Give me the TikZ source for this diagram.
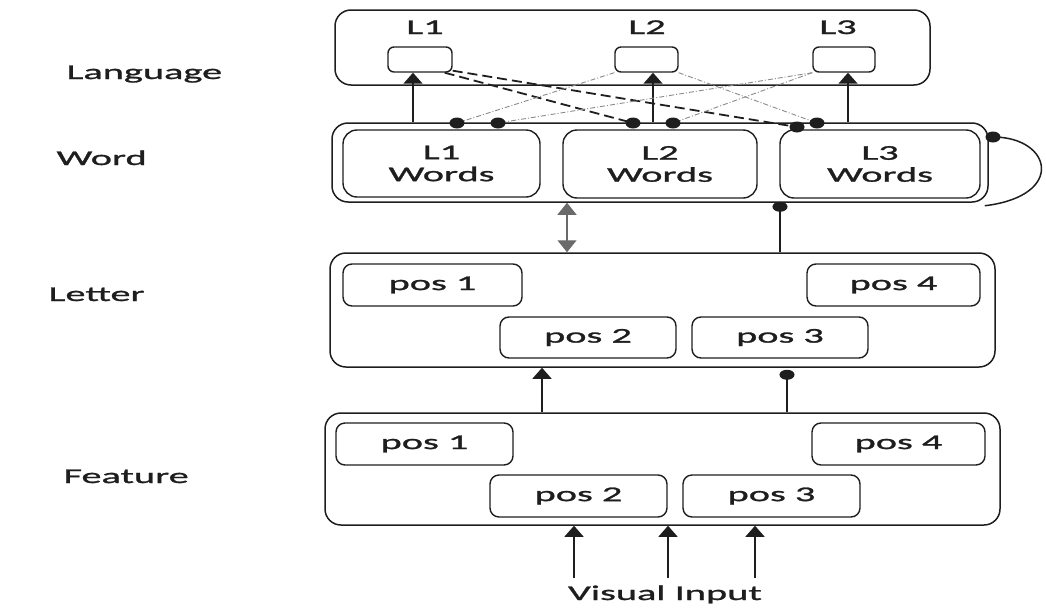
\documentclass[tikz,border=0pt]{standalone}
\usepackage{fontspec}
\setmainfont{Carlito}[FakeStretch=1.92,FakeBold=1.3]
\usetikzlibrary{arrows.meta}
\definecolor{ink}{HTML}{1E1E1E}
\definecolor{faint}{HTML}{8A8A8A}
\definecolor{mid}{HTML}{6A6A6A}
\begin{document}
\begin{tikzpicture}[x=1pt,y=-1pt,
  every node/.style={font=\fontsize{21}{22}\selectfont, text=ink},
  layerbox/.style={draw=ink, line width=1.5pt, rounded corners=16pt, inner sep=0pt},
  unitbox/.style={draw=ink, line width=1.4pt, rounded corners=9pt, inner sep=0pt, align=center},
  link/.style={draw=ink, line width=1.5pt},
  excite/.style={link, -{Triangle[width=19pt,length=11pt]}},
  twoway/.style={draw=mid, line width=1.3pt, fill=mid, {Triangle[width=19pt,length=12pt]}-{Triangle[width=19pt,length=12pt]}},
  inhibit/.style={link, -{Ellipse[length=10pt,width=15pt]}},
  crossdash/.style={draw=ink, line width=1.8pt, dash pattern=on 10pt off 5pt},
  crossdot/.style={draw=faint, line width=0.9pt, dash pattern=on 5pt off 2pt on 1pt off 2pt},
  blob/.style={fill=ink}
]
\useasboundingbox (0,0) rectangle (1046,608);

% level names
\node[anchor=base west] (tLang) at (63,79) {Language};
\node[anchor=base west] (tWord) at (53,165) {Word};
\node[anchor=base west] (tLett) at (45,301) {Letter};
\node[anchor=base west] (tFeat) at (60,483) {Feature};

% language level
\node[layerbox, minimum width=595pt, minimum height=75pt] (lang) at (632.5,47.5) {};
\node[unitbox, minimum width=64pt, minimum height=25pt, rounded corners=6pt] (L1) at (420,59.5) {};
\node[unitbox, minimum width=63pt, minimum height=25pt, rounded corners=6pt] (L2) at (646.5,59.5) {};
\node[unitbox, minimum width=62pt, minimum height=25pt, rounded corners=6pt] (L3) at (844,59.5) {};
\node[anchor=base] (tL1) at (425,34) {L1};
\node[anchor=base] (tL2) at (647,34) {L2};
\node[anchor=base] (tL3) at (838,34) {L3};

% word level
\node[layerbox, minimum width=656pt, minimum height=79pt] (words) at (660,162.5) {};
\node[unitbox, minimum width=197pt, minimum height=67pt, rounded corners=14pt] (W1) at (441.5,163.5) {L1\\Words};
\node[unitbox, minimum width=194pt, minimum height=68pt, rounded corners=14pt] (W2) at (660,164) {L2\\Words};
\node[unitbox, minimum width=200pt, minimum height=68pt, rounded corners=14pt] (W3) at (880,164) {L3\\Words};

% letter level
\node[layerbox, minimum width=665pt, minimum height=114pt] (letter) at (662.5,310) {};
\node[unitbox, minimum width=179pt, minimum height=42pt] (P1) at (432.5,285) {pos 1};
\node[unitbox, minimum width=176pt, minimum height=41pt] (P2) at (588,337.5) {pos 2};
\node[unitbox, minimum width=176pt, minimum height=41pt] (P3) at (780,337.5) {pos 3};
\node[unitbox, minimum width=173pt, minimum height=42pt] (P4) at (893.5,285) {pos 4};

% feature level
\node[layerbox, minimum width=675pt, minimum height=112pt] (feature) at (662.5,469) {};
\node[unitbox, minimum width=177pt, minimum height=42pt] (F1) at (424.5,444) {pos 1};
\node[unitbox, minimum width=177pt, minimum height=42pt] (F2) at (578.5,496) {pos 2};
\node[unitbox, minimum width=177pt, minimum height=42pt] (F3) at (771.5,496) {pos 3};
\node[unitbox, minimum width=173pt, minimum height=42pt] (F4) at (898.5,444) {pos 4};

\node[anchor=base] (vis) at (665,600) {Visual Input};

% word units to language nodes
\draw[excite] ([xshift=-7pt]L1.south |- words.north) -- ([xshift=-7pt]L1.south);
\draw[excite] ([xshift=6.5pt]L2.south |- words.north) -- ([xshift=6.5pt]L2.south);
\draw[excite] ([xshift=4pt]L3.south |- words.north) -- ([xshift=4pt]L3.south);

% inhibitory cross connections, language nodes to word units
\coordinate (d1) at (457,123);
\coordinate (d2) at (498,123);
\coordinate (d3) at (633,123);
\coordinate (d4) at (673,123);
\coordinate (d5) at (797,127);
\coordinate (d6) at (817,123);
\draw[crossdash] ([xshift=-8pt]L1.south east) -- (d3);
\draw[crossdash] ([yshift=2pt]L1.south east) -- (d5);
\draw[crossdot] (L2.south west) -- (d1);
\draw[crossdot] (L2.south east) -- (d6);
\draw[crossdot] (L3.south west) -- (d2);
\draw[crossdot] (L3.south west) -- (d4);
\foreach \d in {d1,d2,d3,d4,d5,d6}
  \fill[blob] (\d) ellipse [x radius=7.5, y radius=5.5];

% self inhibition of the word level
\coordinate (selfdot) at (993,137);
\draw[link] (selfdot) .. controls (1052,137) and (1066,196) .. ([xshift=-4pt,yshift=-3pt]words.south east);
\fill[blob] (selfdot) ellipse [x radius=7.5, y radius=5.5];

% word <-> letter
\coordinate (wa) at (567,0);
\coordinate (wb) at (780,0);
\draw[twoway] (words.south -| wa) -- (letter.north -| wa);
\draw[inhibit] (letter.north -| wb) -- ([yshift=1pt]words.south -| wb);

% feature -> letter
\coordinate (fa) at (542,0);
\coordinate (fb) at (787,0);
\draw[excite] (feature.north -| fa) -- (letter.south -| fa);
\draw[inhibit] (feature.north -| fb) -- ([yshift=-2pt]letter.south -| fb);

% visual input -> feature
\foreach \x [count=\i] in {574,668,755} {
  \coordinate (vi\i) at (\x,578);
  \draw[excite] (vi\i) -- (feature.south -| vi\i);
}
\end{tikzpicture}
\end{document}
